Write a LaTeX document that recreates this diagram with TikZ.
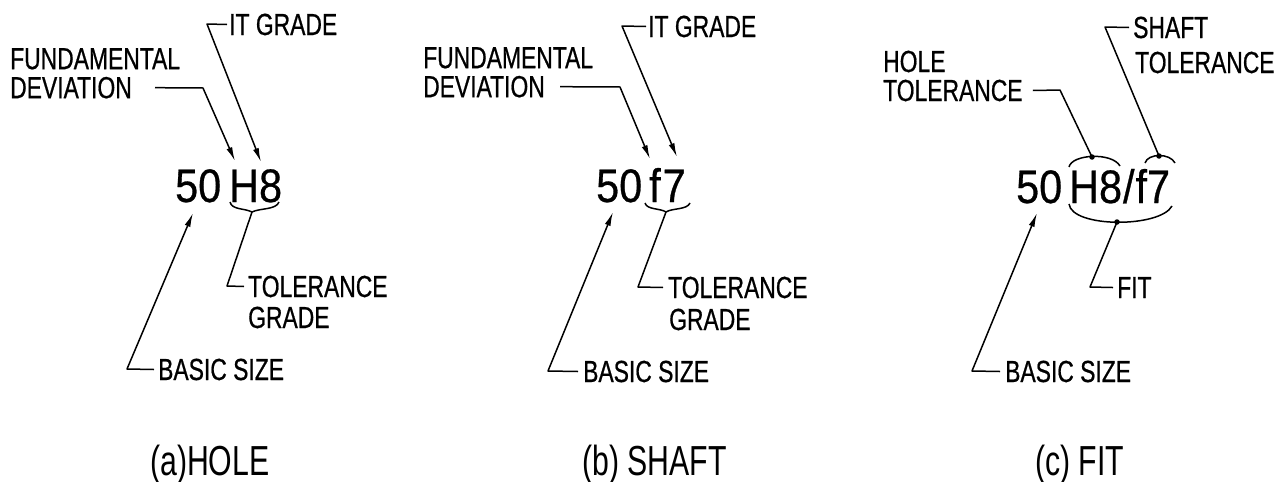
\documentclass[tikz,border=0pt]{standalone}
\usepackage{fontspec}
\setmainfont{Liberation Sans}[FakeStretch=0.75,FakeBold=0.6]
\newfontfamily\bigfont{Liberation Sans}[FakeStretch=0.88,FakeBold=0.6]
\newfontfamily\capfont{Liberation Sans}[FakeStretch=0.72]
\usetikzlibrary{arrows.meta}
\begin{document}
\begin{tikzpicture}[x=1pt,y=-1pt,
  lbl/.style={font=\fontsize{30.5}{32}\selectfont, inner sep=0pt, anchor=base west},
  lbltwo/.style={font=\fontsize{30.5}{29}\selectfont, inner sep=0pt, anchor=north west, align=left},
  big/.style={font=\bigfont\fontsize{47}{50}\selectfont, inner sep=0pt, anchor=base west},
  capt/.style={font=\capfont\fontsize{42}{44}\selectfont, inner sep=0pt, anchor=base west},
  ldr/.style={line width=1.5pt, line join=round},
  arr/.style={ldr, -{Latex[length=14pt,width=6pt]}},
  dotn/.style={circle, fill, inner sep=0pt, minimum size=5.5pt},
]
\useasboundingbox (0,0) rectangle (1286,482);

% ---------- (a) HOLE ----------
\node[lbl] (aIT) at (229,35) {IT GRADE};
\node[lbltwo] (aFD) at (10,48) {FUNDAMENTAL\\DEVIATION};
\node[big] (a50) at (175,202) {50};
\node[big] (aH8) at (229,202) {H8};
\node[lbl] (aTG1) at (248,297) {TOLERANCE};
\node[lbl] (aTG2) at (248,328) {GRADE};
\node[lbl] (aBS) at (158,380) {BASIC SIZE};
\node[capt] (aCap) at (150,475) {(a)HOLE};

\coordinate (aFDc) at (203,88);
\coordinate (aFDt) at (235,161);
\coordinate (aITc) at (207,24);
\coordinate (aITt) at (261,162);
\coordinate (aBr) at (252,212);
\coordinate (aTGc) at (227,286);
\coordinate (aBSc) at (127,369);
\coordinate (aBSt) at (193,213);

\draw[arr] (aFD.south west -| 155,0) ++(0,-11) -- (aFDc) -- (aFDt);
\draw[arr] ([xshift=-2pt]aIT.west) -- (aITc) -- (aITt);
\draw[ldr] (230,202) .. controls (232,210) and (244,208) .. (aBr)
           .. controls (260,208) and (276,210) .. (279,202);
\draw[ldr] (aBr) -- (aTGc) -- ([xshift=-4pt]aTG1.west);
\draw[arr] ([xshift=-4pt]aBS.west) -- (aBSc) -- (aBSt);

% ---------- (b) SHAFT ----------
\node[lbl] (bIT) at (648,37) {IT GRADE};
\node[lbltwo] (bFD) at (423,47) {FUNDAMENTAL\\DEVIATION};
\node[big] (b50) at (596,202) {50};
\node[big] (bf7) at (649,202) {f\kern2pt 7};
\node[lbl] (bTG1) at (668,298) {TOLERANCE};
\node[lbl] (bTG2) at (669,330) {GRADE};
\node[lbl] (bBS) at (583,382) {BASIC SIZE};
\node[capt] (bCap) at (582,475) {(b) SHAFT};

\coordinate (bFDc) at (620,87);
\coordinate (bFDt) at (650,159);
\coordinate (bITc) at (622,26);
\coordinate (bITt) at (677,157);
\coordinate (bBr) at (666,212);
\coordinate (bTGc) at (638,287);
\coordinate (bBSc) at (548,371);
\coordinate (bBSt) at (613,212);

\draw[arr] (bFD.south west -| 560,0) ++(0,-11) -- (bFDc) -- (bFDt);
\draw[arr] ([xshift=-2pt]bIT.west) -- (bITc) -- (bITt);
\draw[ldr] (645,203) .. controls (647,210) and (660,208) .. (bBr)
           .. controls (672,208) and (687,210) .. (690,203);
\draw[ldr] (bBr) -- (bTGc) -- ([xshift=-5pt]bTG1.west);
\draw[arr] ([xshift=-5pt]bBS.west) -- (bBSc) -- (bBSt);

% ---------- (c) FIT ----------
\node[lbl] (cST1) at (1133,38) {SHAFT};
\node[lbl] (cST2) at (1135,73) {TOLERANCE};
\node[lbl] (cHT1) at (883,72) {HOLE};
\node[lbl] (cHT2) at (883,101) {TOLERANCE};
\node[big] (c50) at (1016,203) {50};
\node[big] (cHf) at (1069,203) {H8\kern1pt/\kern1pt f7};
\node[lbl] (cFIT) at (1117,298) {FIT};
\node[lbl] (cBS) at (1005,382) {BASIC SIZE};
\node[capt] (cCap) at (1035,475) {(c) FIT};

\node[dotn] (cD1) at (1092,157) {};
\node[dotn] (cD2) at (1159,156) {};
\node[dotn] (cD3) at (1117,222) {};
\draw[ldr] (1069,167) .. controls (1072,154) and (1112,152) .. (1120,166);
\draw[ldr] (1145,163) .. controls (1148,153) and (1170,153) .. (1175,163);
\draw[ldr] (1069,204) .. controls (1072,228) and (1160,228) .. (1172,206);

\coordinate (cHTc) at (1060,90);
\coordinate (cSTc) at (1105,27);
\coordinate (cFITc) at (1090,287);
\coordinate (cBSc) at (972,371);
\coordinate (cBSt) at (1037,213);

\draw[ldr] ([xshift=10pt]cHT2.east) -- (cHTc) -- (cD1.center);
\draw[ldr] ([xshift=-4pt]cST1.west) -- (cSTc) -- (cD2.center);
\draw[ldr] (cD3.center) -- (cFITc) -- ([xshift=-4pt]cFIT.west);
\draw[arr] ([xshift=-5pt]cBS.west) -- (cBSc) -- (cBSt);
\end{tikzpicture}
\end{document}
